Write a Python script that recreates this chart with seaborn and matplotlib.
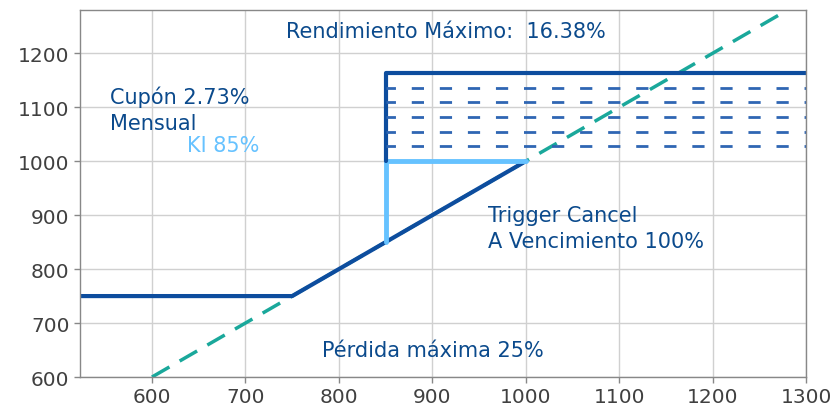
import matplotlib
matplotlib.use('Agg')
import matplotlib.pyplot as plt
import seaborn as sns

sns.set_theme(style='whitegrid')
plt.rcParams['font.family'] = ['DejaVu Sans']

# payoff structure values
diag_x = [600, 1300]
diag_y = [600, 1300]
loss_x = [520, 750, 1000]
loss_y = [750, 750, 1000]
ki_x = [850, 850, 1000]
ki_y = [850, 1000, 1000]
cap_x = [850, 850, 1300]
cap_y = [1000, 1163.8, 1163.8]
coupon_levels = [1027.3, 1054.6, 1081.9, 1109.2, 1136.5]
coupon_start = 850
coupon_end = 1300

dark = '#0d4d9e'
text_blue = '#0b4a8c'
light = '#66c2ff'
teal = '#1aa89b'

fig = plt.figure(figsize=(8.38, 4.10), dpi=100)
ax = fig.add_axes([0.0955, 0.078, 0.8665, 0.895])


def line(xs, ys, **kw):
    sns.lineplot(x=xs, y=ys, ax=ax, sort=False, estimator=None, **kw)


line(diag_x, diag_y, color=teal, lw=2.5, linestyle=(0, (5.8, 3.4)))
line(loss_x, loss_y, color=dark, lw=3)
line(ki_x, ki_y, color=light, lw=3.5)
line(cap_x, cap_y, color=dark, lw=3)
for lvl in coupon_levels:
    line([coupon_start, coupon_end], [lvl, lvl], color='#2f66b3', lw=2,
         linestyle=(1, (4.4, 5.7)))

ax.set_xlim(523, 1300)
ax.set_ylim(600, 1280)
ax.set_xticks(range(600, 1301, 100))
ax.set_yticks(range(600, 1201, 100))
ax.tick_params(labelsize=14.5, colors='#888888', labelcolor='#404040',
               length=4, width=1, left=True, bottom=True)
for s in ax.spines.values():
    s.set_color('#888888')
    s.set_linewidth(1)
ax.grid(color='#d0d0d0', lw=1)

fs = 15
ax.text(914, 1242, 'Rendimiento Máximo:  16.38%', color=text_blue,
        fontsize=fs, ha='center', va='center')
ax.text(555, 1120, 'Cupón 2.73%', color=text_blue, fontsize=fs,
        ha='left', va='center')
ax.text(555, 1070, 'Mensual', color=text_blue, fontsize=fs,
        ha='left', va='center')
ax.text(638, 1030, 'KI 85%', color=light, fontsize=fs,
        ha='left', va='center')
ax.text(960, 900, 'Trigger Cancel', color=text_blue, fontsize=fs,
        ha='left', va='center')
ax.text(960, 852, 'A Vencimiento 100%', color=text_blue, fontsize=fs,
        ha='left', va='center')
ax.text(901, 650, 'Pérdida máxima 25%', color=text_blue, fontsize=fs,
        ha='center', va='center')

fig.savefig('out.png', dpi=100)
